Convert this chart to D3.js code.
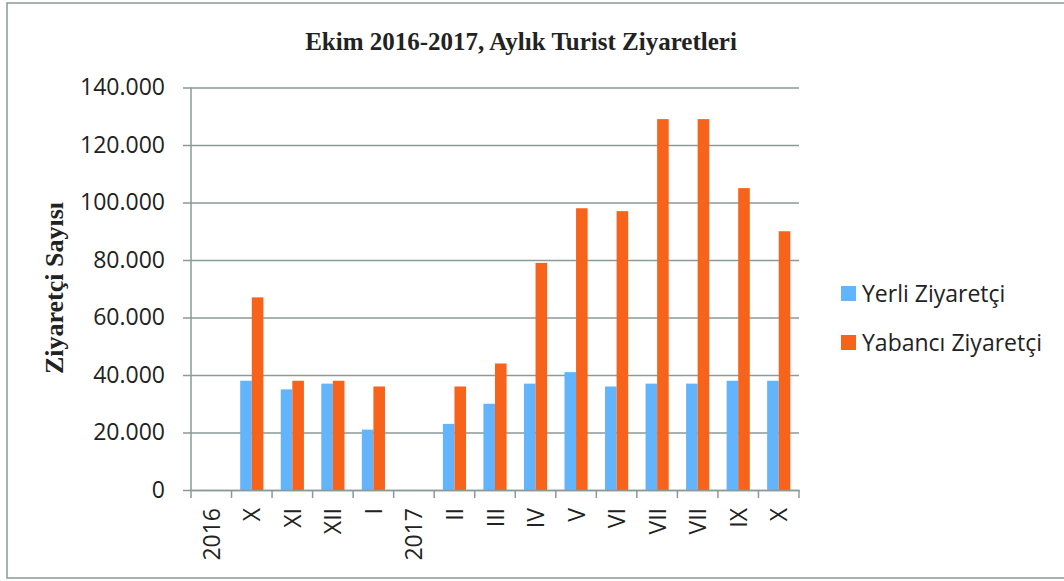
<!DOCTYPE html>
<html>
<head>
<meta charset="utf-8">
<script src="https://cdn.jsdelivr.net/npm/d3@7"></script>
<style>
  body { margin: 0; background: #fff; }
  svg { display: block; }
</style>
</head>
<body>
<div id="chart"></div>
<script>
const categories = ['2016', 'X', 'XI', 'XII', 'I', '2017', 'II', 'III', 'IV', 'V', 'VI', 'VII', 'VII ', 'IX', 'X '];
const seriesNames = ['Yerli Ziyaretçi', 'Yabancı Ziyaretçi'];
const yerli   = [null, 38000, 35000, 37000, 21000, null, 23000, 30000, 37000, 41000, 36000, 37000, 37000, 38000, 38000];
const yabanci = [null, 67000, 38000, 38000, 36000, null, 36000, 44000, 79000, 98000, 97000, 129000, 129000, 105000, 90000];
const yTicks = [0, 20000, 40000, 60000, 80000, 100000, 120000, 140000];
const colors = ['#62b4fc', '#f7631a'];

const width = 1064, height = 581;
const plotL = 191, plotR = 799, plotT = 87.5, plotB = 490;

const svg = d3.select('#chart').append('svg')
    .attr('width', width).attr('height', height);

// outer frame
svg.append('rect')
    .attr('x', 7).attr('y', 3)
    .attr('width', 1070).attr('height', 575)
    .attr('fill', 'none').attr('stroke', '#8a9a98').attr('stroke-width', 1.5);

const x = d3.scaleBand().domain(categories).range([plotL, plotR]);
const inner = d3.scaleBand().domain(seriesNames).range([0, x.bandwidth()]).paddingInner(0).paddingOuter(0.75);
const y = d3.scaleLinear().domain([0, 140000]).range([plotB, plotT]);

const fmt = d => d === 0 ? '0' : d3.format(',')(d).replace(/,/g, '.');

// gridlines + y ticks
const yAxis = svg.append('g')
    .attr('transform', `translate(${plotL},0)`)
    .call(d3.axisLeft(y).tickValues(yTicks).tickFormat(fmt).tickSize(-(plotR - plotL)).tickPadding(26));
yAxis.select('.domain').remove();
yAxis.selectAll('.tick line')
    .attr('x1', -8)
    .attr('stroke', '#8a9a98').attr('stroke-width', 1.5);
yAxis.selectAll('.tick text')
    .attr('font-family', '"Open Sans", sans-serif')
    .attr('font-size', '23px').attr('fill', '#222');

// y axis line
svg.append('line')
    .attr('x1', plotL).attr('x2', plotL).attr('y1', plotT).attr('y2', plotB)
    .attr('stroke', '#8a9a98').attr('stroke-width', 1.5);

// bars
const rows = categories.map((c, i) => ({ cat: c, vals: [yerli[i], yabanci[i]] }));
const groups = svg.append('g').selectAll('g')
    .data(rows).join('g')
    .attr('transform', d => `translate(${x(d.cat)},0)`);
groups.selectAll('rect')
    .data(d => d.vals.map((v, j) => ({ name: seriesNames[j], v: v, j: j })).filter(e => e.v != null))
    .join('rect')
    .attr('x', e => inner(e.name))
    .attr('width', inner.bandwidth())
    .attr('y', e => y(e.v))
    .attr('height', e => y(0) - y(e.v))
    .attr('fill', e => colors[e.j]);

// x axis
const xAxis = svg.append('g')
    .attr('transform', `translate(0,${plotB})`)
    .call(d3.axisBottom(x).tickSize(0).tickPadding(0));
xAxis.select('.domain').attr('stroke', '#8a9a98').attr('stroke-width', 1.5);
xAxis.selectAll('.tick text')
    .attr('font-family', '"Open Sans", sans-serif')
    .attr('font-size', '23px').attr('fill', '#222')
    .attr('text-anchor', 'end')
    .attr('transform', 'translate(8.5,18) rotate(-90)')
    .attr('dy', 0).attr('y', 0).attr('x', 0)
    .text(d => d.trim());
// band separators
svg.append('g').selectAll('line')
    .data(categories.concat(['__end']))
    .join('line')
    .attr('x1', (d, i) => i < categories.length ? x(d) : plotR)
    .attr('x2', (d, i) => i < categories.length ? x(d) : plotR)
    .attr('y1', plotB).attr('y2', plotB + 8)
    .attr('stroke', '#8a9a98').attr('stroke-width', 1.5);

// title
svg.append('text')
    .attr('x', 521).attr('y', 50)
    .attr('text-anchor', 'middle')
    .attr('font-family', '"Liberation Serif", serif')
    .attr('font-weight', 'bold').attr('font-size', '25px').attr('fill', '#222')
    .text('Ekim 2016-2017, Aylık Turist Ziyaretleri');

// y label
svg.append('text')
    .attr('transform', 'translate(63,288) rotate(-90)')
    .attr('text-anchor', 'middle')
    .attr('font-family', '"Liberation Serif", serif')
    .attr('font-weight', 'bold').attr('font-size', '26px').attr('fill', '#222')
    .text('Ziyaretçi Sayısı');

// legend
const legend = svg.append('g').selectAll('g')
    .data(seriesNames).join('g')
    .attr('transform', (d, i) => `translate(841,${293.5 + i * 49})`);
legend.append('rect')
    .attr('x', 0).attr('y', -7.5).attr('width', 15).attr('height', 15)
    .attr('fill', (d, i) => colors[i]);
legend.append('text')
    .attr('x', 21).attr('y', 0).attr('dy', '0.35em')
    .attr('font-family', '"Open Sans", sans-serif')
    .attr('font-size', '23px').attr('fill', '#222')
    .text(d => d);
</script>
</body>
</html>
